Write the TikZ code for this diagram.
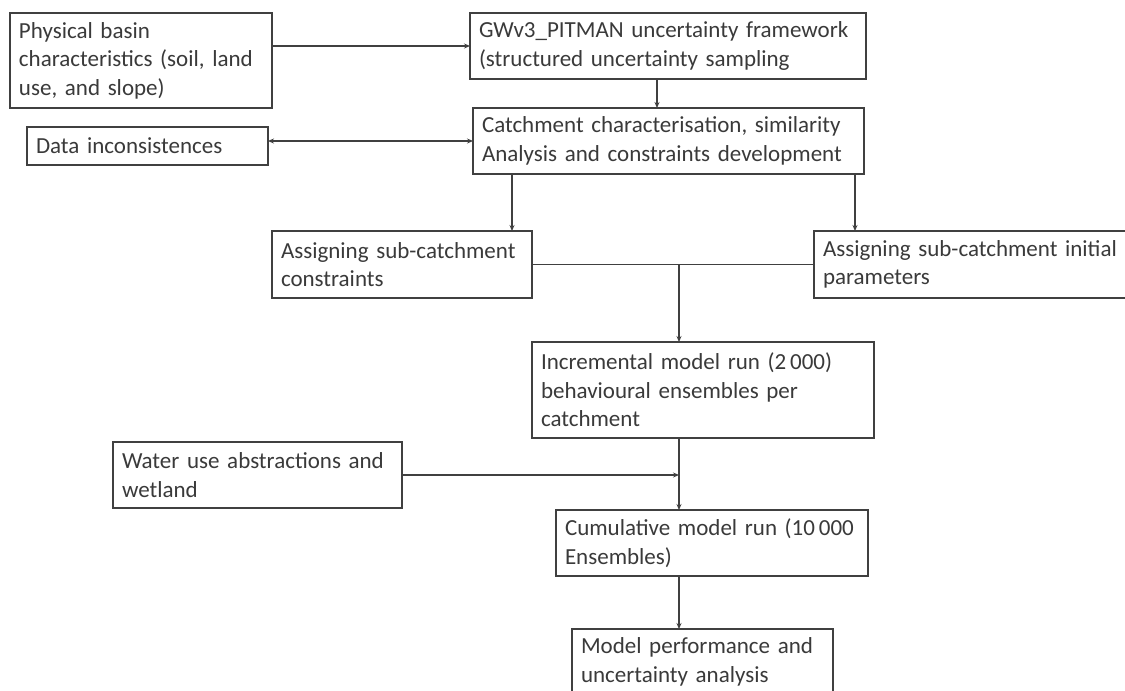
\documentclass[tikz,border=0pt]{standalone}
\usepackage{fontspec}
\setmainfont{Carlito}
\usetikzlibrary{arrows.meta}
\definecolor{inkc}{HTML}{3A3A3A}
\definecolor{edgec}{HTML}{404040}
\tikzset{
  flowbox/.style={draw=edgec, line width=1.2pt, fill=white, text=inkc,
    align=left, anchor=north west, inner xsep=9pt, inner ysep=0pt,
    outer sep=0pt, font=\fontsize{23}{28.5}\selectfont},
  link/.style={draw=edgec, line width=1.2pt},
  tip/.tip={Stealth[length=6pt,width=5pt]},
  flowarrow/.style={link, -tip},
}
\begin{document}
\begin{tikzpicture}[x=1pt,y=-1pt]
\useasboundingbox (0,0) rectangle (1125,691);
\clip (0,0) rectangle (1125,691);

% process boxes (positions are top-left corners)
\node[flowbox, minimum width=262pt, minimum height=95pt, text width=244pt] (basin) at (10,13)
  {Physical basin\\characteristics (soil, land\\use, and slope)};
\node[flowbox, minimum width=396pt, minimum height=66pt, text width=378pt] (gw) at (470,13)
  {GWv3\_PITMAN uncertainty framework\\(structured uncertainty sampling};
\node[flowbox, minimum width=391pt, minimum height=66pt, text width=373pt] (catch) at (473,108)
  {Catchment characterisation, similarity\\Analysis and constraints development};
\node[flowbox, minimum width=241pt, minimum height=38pt, text width=223pt] (data) at (27,127)
  {Data inconsistences};
\node[flowbox, minimum width=260pt, minimum height=67pt, text width=242pt] (cons) at (272,231)
  {Assigning sub-catchment\\constraints};
\node[flowbox, minimum width=340pt, minimum height=67pt, text width=322pt] (par) at (814,231)
  {Assigning sub-catchment initial\\parameters};
\node[flowbox, minimum width=342pt, minimum height=96pt, text width=324pt] (inc) at (532,342)
  {Incremental model run (2\,000)\\behavioural ensembles per\\catchment};
\node[flowbox, minimum width=289pt, minimum height=66pt, text width=271pt] (water) at (113,442)
  {Water use abstractions and\\wetland};
\node[flowbox, minimum width=312pt, minimum height=66pt, text width=294pt] (cum) at (556,510)
  {Cumulative model run (10\,000\\Ensembles)};
\node[flowbox, minimum width=261pt, minimum height=66pt, text width=243pt] (perf) at (572,629)
  {Model performance and\\uncertainty analysis};

% junction where the two assignment branches merge
\coordinate (j) at (679,265);

% connectors
\draw[flowarrow] (basin.east |- gw.west) -- (gw.west);
\draw[flowarrow] ([xshift=-11pt]gw.south) -- ([xshift=-11pt]gw.south |- catch.north);
\draw[link, tip-tip] (data.east |- catch.west) -- (catch.west);
\draw[flowarrow] ([xshift=39pt]catch.south west) -- ([xshift=39pt]catch.south west |- cons.north);
\draw[flowarrow] ([xshift=-9pt]catch.south east) -- ([xshift=-9pt]catch.south east |- par.north);
\draw[link] (cons.east) -- (par.west);
\draw[flowarrow] (j) -- (j |- inc.north);
\draw[flowarrow] (inc.south -| j) -- (cum.north -| j);
\draw[flowarrow] (water.east) -- (water.east -| j);
\draw[flowarrow] (cum.south -| j) -- (perf.north -| j);
\end{tikzpicture}
\end{document}
